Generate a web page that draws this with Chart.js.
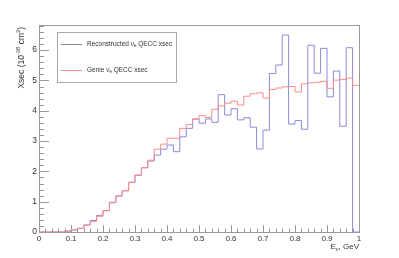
<!DOCTYPE html>
<html>
<head>
<meta charset="utf-8">
<script src="https://cdn.jsdelivr.net/npm/chart.js@4.4.1/dist/chart.umd.min.js"></script>
<style>
  html, body { margin: 0; padding: 0; background: #fff; }
  #wrap { width: 399px; height: 258px; }
</style>
</head>
<body>
<div id="wrap"><canvas id="xsecChart"></canvas></div>
<script>
// bin lower edges (0.02 GeV bins) + the upper edge of the last bin
const binEdges = [0, 0.02, 0.04, 0.06, 0.08, 0.10, 0.12, 0.14, 0.16, 0.18,
  0.20, 0.22, 0.24, 0.26, 0.28, 0.30, 0.32, 0.34, 0.36, 0.38,
  0.40, 0.42, 0.44, 0.46, 0.48, 0.50, 0.52, 0.54, 0.56, 0.58,
  0.60, 0.62, 0.64, 0.66, 0.68, 0.70, 0.72, 0.74, 0.76, 0.78,
  0.80, 0.82, 0.84, 0.86, 0.88, 0.90, 0.92, 0.94, 0.96, 0.98, 1.00];

// Reconstructed nu_e QECC xsec, one value per bin
const recoXsec = [0, 0, 0, 0, 0.03, 0.07, 0.12, 0.23, 0.38, 0.55,
  0.71, 0.98, 1.19, 1.36, 1.64, 1.87, 2.12, 2.34, 2.54, 2.73,
  2.87, 2.65, 3.14, 3.42, 3.73, 3.59, 3.73, 3.62, 4.53, 3.86,
  4.07, 3.70, 3.77, 3.46, 2.74, 3.36, 5.23, 5.51, 6.50, 3.56,
  3.68, 3.39, 6.16, 5.24, 6.06, 4.46, 5.31, 3.49, 6.08, 0];

// Genie nu_e QECC xsec
const genieXsec = [0, 0, 0, 0, 0.03, 0.07, 0.12, 0.23, 0.35, 0.52,
  0.70, 0.96, 1.19, 1.36, 1.64, 1.88, 2.12, 2.37, 2.73, 2.90,
  3.09, 3.09, 3.42, 3.55, 3.72, 3.84, 3.78, 4.05, 4.16, 4.25,
  4.32, 4.19, 4.48, 4.56, 4.59, 4.42, 4.70, 4.75, 4.79, 4.80,
  4.62, 4.89, 4.92, 4.94, 4.97, 4.74, 5.01, 5.03, 5.08, 4.84];

const xTickValues = [0, 0.1, 0.2, 0.3, 0.4, 0.5, 0.6, 0.7, 0.8, 0.9, 1];
const xTickLabels = ["0", "0.1", "0.2", "0.3", "0.4", "0.5", "0.6", "0.7", "0.8", "0.9", "1"];
const yTickValues = [0, 1, 2, 3, 4, 5, 6];
const yTickLabels = ["0", "1", "2", "3", "4", "5", "6"];

const FONT = '"Liberation Sans", Arial, Helvetica, sans-serif';
const AXIS_COLOR = "#9a9a9a";
const TEXT_COLOR = "#333";
const BLUE = "rgb(138,138,218)";
const RED = "rgb(255,138,138)";

// histogram as a stepped line: one point per lower edge, last point closes the bin
function toSteps(values) {
  const pts = values.map((v, i) => ({ x: binEdges[i], y: v }));
  pts.push({ x: binEdges[values.length], y: values[values.length - 1] });
  return pts;
}

// draw text made of pieces, some of them sub/superscripts
function drawRich(ctx, parts, x, y, size) {
  let cx = x;
  parts.forEach(p => {
    const s = p.sub || p.sup ? size * 0.68 : size;
    ctx.font = s + "px " + FONT;
    const dy = p.sup ? -size * 0.42 : (p.sub ? size * 0.3 : 0);
    ctx.fillText(p.t, cx, y + dy);
    cx += ctx.measureText(p.t).width;
  });
  return cx - x;
}
function richWidth(ctx, parts, size) {
  let w = 0;
  parts.forEach(p => {
    ctx.font = (p.sub || p.sup ? size * 0.68 : size) + "px " + FONT;
    w += ctx.measureText(p.t).width;
  });
  return w;
}

const rootFrame = {
  id: "rootFrame",
  afterDraw(chart) {
    const { ctx, chartArea: a, scales: { x, y } } = chart;
    ctx.save();
    ctx.strokeStyle = AXIS_COLOR;
    ctx.lineWidth = 1;
    ctx.strokeRect(a.left + 0.5, a.top + 0.5, a.right - a.left, a.bottom - a.top);

    // x ticks (inside), 5 subdivisions per major
    ctx.beginPath();
    for (let i = 0; i < xTickValues.length; i++) {
      const px = Math.round(x.getPixelForValue(xTickValues[i])) + 0.5;
      ctx.moveTo(px, a.bottom); ctx.lineTo(px, a.bottom - 7);
      if (i < xTickValues.length - 1) {
        const step = (xTickValues[i + 1] - xTickValues[i]) / 5;
        for (let k = 1; k < 5; k++) {
          const mx = Math.round(x.getPixelForValue(xTickValues[i] + k * step)) + 0.5;
          ctx.moveTo(mx, a.bottom); ctx.lineTo(mx, a.bottom - 3.5);
        }
      }
    }
    // y ticks
    for (let v = 0; v <= y.max + 1e-6; v += 0.2) {
      const py = Math.round(y.getPixelForValue(v)) + 0.5;
      const major = Math.abs(v - Math.round(v)) < 1e-6;
      ctx.moveTo(a.left, py); ctx.lineTo(a.left + (major ? 10 : 5), py);
    }
    ctx.stroke();

    // tick labels
    ctx.fillStyle = TEXT_COLOR;
    ctx.font = "8px " + FONT;
    ctx.textAlign = "center";
    ctx.textBaseline = "middle";
    xTickValues.forEach((v, i) => ctx.fillText(xTickLabels[i], x.getPixelForValue(v), 238.5));
    ctx.textAlign = "right";
    ctx.font = "8.5px " + FONT;
    yTickValues.forEach((v, i) => ctx.fillText(yTickLabels[i], 37, y.getPixelForValue(v)));

    // axis titles
    ctx.textAlign = "left";
    ctx.textBaseline = "alphabetic";
    const xTitle = [{ t: "E" }, { t: "\u03bd", sub: true }, { t: ", GeV" }];
    const xw = richWidth(ctx, xTitle, 8);
    drawRich(ctx, xTitle, a.right - xw, 249, 8);

    const yTitle = [{ t: "Xsec (10" }, { t: "-38", sup: true }, { t: " cm" }, { t: "2", sup: true }, { t: ")" }];
    const yw = richWidth(ctx, yTitle, 8.5);
    ctx.save();
    ctx.translate(23.5, a.top + 2 + yw);
    ctx.rotate(-Math.PI / 2);
    drawRich(ctx, yTitle, 0, 0, 8.5);
    ctx.restore();

    // legend box
    ctx.strokeStyle = "#aaa";
    ctx.strokeRect(57.5, 32.5, 119, 50);
    const entries = [
      { color: "#8a8a8a", y: 44, parts: [{ t: "Reconstructed \u03bd" }, { t: "e", sub: true }, { t: " QECC xsec" }] },
      { color: RED, y: 70, parts: [{ t: "Genie \u03bd" }, { t: "e", sub: true }, { t: " QECC xsec" }] }
    ];
    ctx.textBaseline = "middle";
    entries.forEach(e => {
      ctx.strokeStyle = e.color;
      ctx.beginPath();
      ctx.moveTo(61, e.y + 0.5); ctx.lineTo(82, e.y + 0.5);
      ctx.stroke();
      ctx.fillStyle = TEXT_COLOR;
      drawRich(ctx, e.parts, 87, e.y, 6.5);
    });
    ctx.restore();
  }
};

function renderXsecChart() {
  const canvas = document.getElementById("xsecChart");
  if (!canvas) return;
  if (typeof Chart === "undefined") {
    console.error("Chart.js is not loaded");
    return;
  }

  new Chart(canvas.getContext("2d"), {
    type: "line",
    data: {
      datasets: [
        {
          label: "Reconstructed \u03bde QECC xsec",
          data: toSteps(recoXsec),
          borderColor: BLUE,
          borderWidth: 1,
          stepped: true,
          pointRadius: 0,
          fill: false,
          order: 1,
          clip: 2
        },
        {
          label: "Genie \u03bde QECC xsec",
          data: toSteps(genieXsec),
          borderColor: RED,
          borderWidth: 1,
          stepped: true,
          pointRadius: 0,
          fill: false,
          order: 0,
          clip: 2
        }
      ]
    },
    options: {
      responsive: true,
      maintainAspectRatio: false,
      animation: false,
      layout: { padding: { left: 39, right: 40, top: 25, bottom: 26 } },
      plugins: { legend: { display: false }, tooltip: { enabled: false } },
      scales: {
        x: { type: "linear", min: 0, max: 1, display: false },
        y: { type: "linear", min: 0, max: 6.83, display: false }
      }
    },
    plugins: [rootFrame]
  });
}

document.addEventListener("DOMContentLoaded", renderXsecChart);
</script>
</body>
</html>
